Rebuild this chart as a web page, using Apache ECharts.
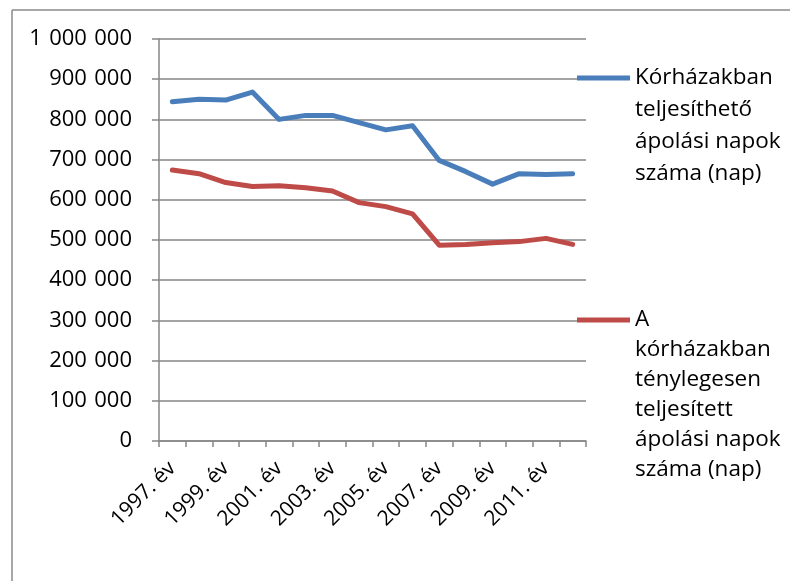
<!DOCTYPE html>
<html>
<head>
<meta charset="utf-8">
<script src="https://cdn.jsdelivr.net/npm/echarts@6/dist/echarts.min.js"></script>
<style>html,body{margin:0;padding:0;background:#fff}#c{width:790px;height:581px}</style>
</head>
<body>
<div id="c"></div>
<script>
const categories = ['1997. év','1998. év','1999. év','2000. év','2001. év','2002. év','2003. év','2004. év','2005. év','2006. év','2007. év','2008. év','2009. év','2010. év','2011. év','2012. év'];
const possibleDays = [844000, 850000, 848000, 868000, 800000, 810000, 810000, 792000, 774000, 784000, 698000, 670000, 639000, 665000, 663000, 665000];
const actualDays = [674000, 665000, 643000, 633000, 635000, 630000, 622000, 593000, 583000, 565000, 487000, 489000, 493000, 496000, 504000, 489000];
const seriesNames = ['Kórházakban\nteljesíthető\nápolási napok\nszáma (nap)', 'A\nkórházakban\nténylegesen\nteljesített\nápolási napok\nszáma (nap)'];
const yTicks = {min: 0, max: 1000000, interval: 100000};

const FONT = 'Open Sans';
const FS = 21;
const chart = echarts.init(document.getElementById('c'));
function fmt(v){ return String(v).replace(/\B(?=(\d{3})+(?!\d))/g, '\u2004'); }
function legendFor(name, iconY, LH){
  const n = name.split('\n').length;
  const total = (2*n - 1) * LH;
  return {
    data: [name], left: 577, top: iconY - total/2, padding: 0, orient: 'vertical',
    icon: 'rect', itemWidth: 53, itemHeight: 5,
    formatter: nm => '\n'.repeat(n - 1) + nm,
    textStyle: {fontFamily: FONT, fontSize: 22.5, color: '#000', lineHeight: LH}
  };
}
chart.setOption({
  animation: false,
  grid: {left: 159, right: 204, top: 39, bottom: 140, containLabel: false},
  graphic: [
    {type: 'line', shape: {x1: 12, y1: 10, x2: 12, y2: 581}, style: {stroke: '#8a8a8a', lineWidth: 1.5}},
    {type: 'line', shape: {x1: 12, y1: 10, x2: 790, y2: 10}, style: {stroke: '#8a8a8a', lineWidth: 1.5}}
  ],
  legend: [legendFor(seriesNames[0], 78, 32), legendFor(seriesNames[1], 320, 30)],
  xAxis: {
    type: 'category', data: categories, boundaryGap: true,
    axisLine: {lineStyle: {color: '#868686', width: 1.5}},
    axisTick: {show: true, length: 6, interval: 0, lineStyle: {color: '#868686', width: 1.5}},
    axisLabel: {interval: 1, rotate: 45, margin: 24, fontFamily: FONT, fontSize: FS, color: '#000'}
  },
  yAxis: {
    type: 'value', min: yTicks.min, max: yTicks.max, interval: yTicks.interval,
    axisLine: {show: true, lineStyle: {color: '#868686', width: 1.5}},
    axisTick: {show: true, length: 7, lineStyle: {color: '#868686', width: 1.5}},
    splitLine: {lineStyle: {color: '#868686', width: 1.5}},
    axisLabel: {margin: 27, fontFamily: FONT, fontSize: 22, color: '#000', formatter: fmt}
  },
  series: [
    {name: seriesNames[0], type: 'line', data: possibleDays, showSymbol: false, symbol: 'none',
     lineStyle: {color: '#4A7EBB', width: 5, cap: 'round', join: 'round'}, itemStyle: {color: '#4A7EBB'}},
    {name: seriesNames[1], type: 'line', data: actualDays, showSymbol: false, symbol: 'none',
     lineStyle: {color: '#BE4B48', width: 5, cap: 'round', join: 'round'}, itemStyle: {color: '#BE4B48'}}
  ]
});
</script>
</body>
</html>
